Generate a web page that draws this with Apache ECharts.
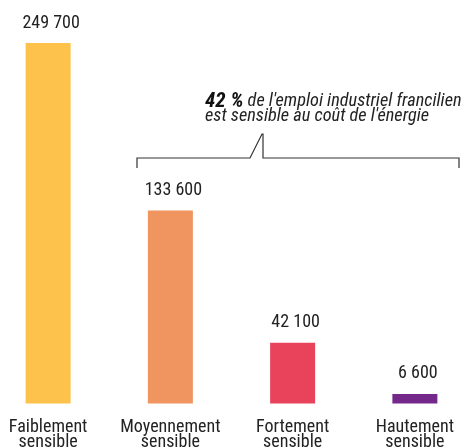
<!DOCTYPE html>
<html>
<head>
<meta charset="utf-8">
<script src="https://cdn.jsdelivr.net/npm/echarts@6/dist/echarts.min.js"></script>
<style>
  html, body { margin: 0; padding: 0; background: #fff; }
  #chart { width: 471px; height: 448px; }
</style>
</head>
<body>
<div id="chart"></div>
<script>
const categories = ['Faiblement\nsensible', 'Moyennement\nsensible', 'Fortement\nsensible', 'Hautement\nsensible']
const values = [249700, 133600, 42100, 6600]
const colors = ['#FDC24B', '#F09460', '#E8435A', '#74298A']
const noteBold = '42 %'
const noteLine1 = ' de l\'emploi industriel francilien'
const noteLine2 = 'est sensible au coût de l\'énergie'

const font = '"Liberation Sans Narrow", "Roboto Condensed", "Liberation Sans", sans-serif'

const chart = echarts.init(document.getElementById('chart'))
chart.setOption({
  animation: false,
  grid: { left: -13, right: -5, top: 43, bottom: 44.5, outerBoundsMode: 'none', containLabel: false },
  xAxis: {
    type: 'category',
    data: categories,
    axisLine: { show: false },
    axisTick: { show: false },
    axisLabel: {
      interval: 0,
      color: '#222',
      fontFamily: font,
      fontSize: 18,
      lineHeight: 15,
      margin: 16
    }
  },
  yAxis: {
    type: 'value',
    min: 0,
    max: values[0],
    show: false,
    splitLine: { show: false }
  },
  series: [{
    type: 'bar',
    barWidth: 45,
    data: values.map((v, i) => ({ value: v, itemStyle: { color: colors[i] } })),
    label: {
      show: true,
      position: 'top',
      distance: 11,
      offset: [3, 0],
      color: '#222',
      fontFamily: font,
      fontSize: 18,
      formatter: p => p.value.toLocaleString('fr-FR').replace(/\s/g, ' ')
    }
  }],
  graphic: [
    {
      type: 'polyline',
      shape: { points: [[137, 168], [137, 158], [250, 158], [262, 134], [263, 134], [263, 158], [459, 158], [459, 168]] },
      style: { stroke: '#333', lineWidth: 1.2, fill: null }
    },
    {
      type: 'text',
      left: 205,
      top: 91,
      style: {
        text: '{b|' + noteBold + '}{n|' + noteLine1 + '}\n{n|' + noteLine2 + '}',
        rich: {
          b: { fontFamily: font, fontStyle: 'italic', fontWeight: 'bold', fontSize: 21, fill: '#111', lineHeight: 14.5 },
          n: { fontFamily: font, fontStyle: 'italic', fontSize: 18.3, fill: '#222', lineHeight: 14.5 }
        }
      }
    }
  ]
})
</script>
</body>
</html>
